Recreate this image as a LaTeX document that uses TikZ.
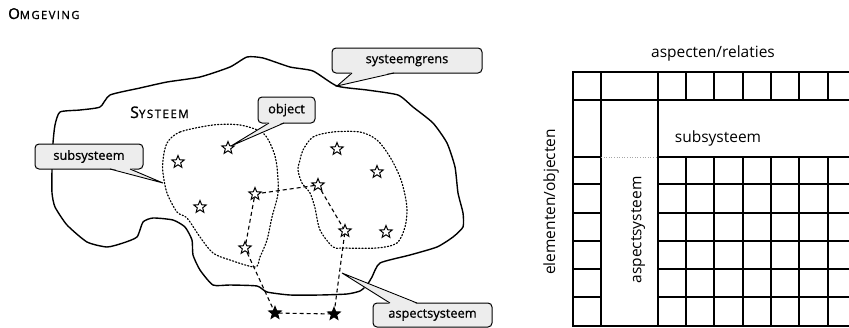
\documentclass[tikz,border=0pt]{standalone}
\usepackage{fontspec}
\setmainfont{Open Sans}
\newfontfamily\headfont{Open Sans}[FakeBold=1.2, LetterSpace=13]
\newfontfamily\callfont{Open Sans}[FakeBold=0.9]
\usetikzlibrary{shapes.geometric}
\tikzset{
  cloud line/.style={line width=1.4pt, line join=round},
  region/.style={line width=1.2pt, dotted, line cap=round},
  ostar/.style={star, star points=5, star point ratio=2.3, minimum size=13pt, inner sep=0pt, draw, fill=white, line width=1pt},
  fstar/.style={ostar, fill=black},
  link/.style={line width=1.1pt, dash pattern=on 4pt off 3pt},
  callout/.style={draw, line width=1pt, fill=black!7, rounded corners=4pt, inner sep=0pt, font=\callfont\fontsize{12.8}{14}\selectfont},
  pointer/.style={line width=0.9pt},
  gridline/.style={line width=1.5pt, line cap=rect},
  label/.style={inner sep=0pt, font=\fontsize{15.5}{17}\selectfont},
}
\begin{document}
\begin{tikzpicture}[x=1pt,y=-1pt]
\useasboundingbox (0,0) rectangle (849,327);
\clip (0,0) rectangle (849,327);

% headings
\node[inner sep=0pt, anchor=base west] (omg) at (8,19) {\headfont{\fontsize{15}{15}\selectfont O}{\fontsize{11.2}{12}\selectfont MGEVING}};
\node[inner sep=0pt, anchor=base west] (sys) at (130,118) {\headfont{\fontsize{16}{16}\selectfont S}{\fontsize{11.5}{12}\selectfont YSTEEM}};

% system boundary
\draw[cloud line] plot[smooth cycle, tension=0.35] coordinates {
 (53,143) (55,125) (60,112) (80,110) (100,107) (110,95) (140,88) (167,82) (200,77)
 (230,67) (247,57) (263,58) (290,67) (313,71) (337,86) (367,90) (398,95) (413,107)
 (433,123) (447,143) (455,167) (458,193) (463,213) (463,227) (453,237) (437,247)
 (410,255) (380,263) (372,277) (367,285) (360,291) (347,294) (320,295) (290,295)
 (267,292) (257,286) (230,285) (213,285) (200,270) (193,255) (192,240) (185,227)
 (173,220) (153,218) (143,222) (137,237) (123,243) (107,247) (87,242) (67,225)
 (55,207) (52,193) (52,170)};

% subsystems
\draw[region] plot[smooth cycle, tension=0.5] coordinates {
 (167,143) (180,132) (213,125) (240,125) (263,133) (273,150) (277,167) (278,193)
 (272,217) (267,240) (260,257) (255,267) (230,260) (213,253) (200,237) (187,218)
 (177,212) (167,193) (163,173) (163,160)};
\draw[region] plot[smooth cycle, tension=0.5] coordinates {
 (303,150) (313,137) (333,132) (360,132) (377,140) (390,157) (400,177) (405,195)
 (407,210) (405,227) (397,243) (377,248) (343,248) (333,247) (320,230) (315,208)
 (310,193) (302,183) (298,170) (300,160)};

% stars (positions)
\coordinate (p1) at (178,162);
\coordinate (p2) at (228,148);
\coordinate (p3) at (200,207);
\coordinate (p4) at (255,194);
\coordinate (p5) at (245,248);
\coordinate (p6) at (318,185);
\coordinate (p7) at (337,149);
\coordinate (p8) at (377,172);
\coordinate (p9) at (345,231);
\coordinate (p10) at (386,232);
\coordinate (p11) at (275,313);
\coordinate (p12) at (334,314);

% aspect system links
\draw[link] (p4) -- (p6) -- (p9) -- (p12) -- (p11) -- (p5) -- cycle;

\foreach \i in {1,...,10} {\node[ostar] (s\i) at (p\i) {};}
\node[fstar] (s11) at (p11) {};
\node[fstar] (s12) at (p12) {};

% callouts
\node[callout, minimum width=150pt, minimum height=25pt] (cgrens) at (407,60.5) {systeemgrens};
\coordinate (tgrens) at (337,86);
\fill[black!7] (352,72) -- (tgrens) -- (394,72) -- cycle;
\draw[pointer] (352,73) -- (tgrens) -- (394,73);

\node[callout, minimum width=57pt, minimum height=26pt] (cobj) at (286.5,110) {object};
\coordinate (tobj) at (231,146);
\fill[black!7] (269,122) -- (tobj) -- (284,122) -- cycle;
\draw[pointer] (269,123) -- (tobj) -- (284,123);

\node[callout, minimum width=108pt, minimum height=25pt] (csub) at (89,156.5) {subsysteem};
\coordinate (tsub) at (163,183);
\fill[black!7] (110,168) -- (tsub) -- (130,168) -- cycle;
\draw[pointer] (110,169) -- (tsub) -- (130,169);

\node[callout, minimum width=119pt, minimum height=24pt] (casp) at (432.5,315) {aspectsysteem};
\coordinate (tasp) at (342,273);
\fill[black!7] (390,304) -- (tasp) -- (417,304) -- cycle;
\draw[pointer] (390,303) -- (tasp) -- (417,303);

% matrix
\draw[gridline] (573,72) -- (860,72);
\draw[gridline] (573,100) -- (860,100);
\draw[gridline] (573,326) -- (860,326);
\draw[gridline] (573,72) -- (573,326);
\draw[gridline] (601,72) -- (601,326);
\draw[gridline] (658,72) -- (658,326);
\foreach \y in {157,184,213,241,269,297} {
  \draw[gridline] (573,\y) -- (601,\y);
  \draw[gridline] (658,\y) -- (860,\y);
}
\draw[line width=0.6pt, black!35, dotted] (601,157) -- (658,157);
\foreach \x in {686,714,743,771,799,828} {
  \draw[gridline] (\x,72) -- (\x,100);
  \draw[gridline] (\x,157) -- (\x,326);
}

\node[label] (lasp) at (713,53) {aspecten/relaties};
\node[label] (lsub) at (718,138) {subsysteem};
\node[label, rotate=90] (lel) at (551,202) {elementen/objecten};
\node[label, rotate=90] (lasps) at (638,230) {aspectsysteem};
\end{tikzpicture}
\end{document}
